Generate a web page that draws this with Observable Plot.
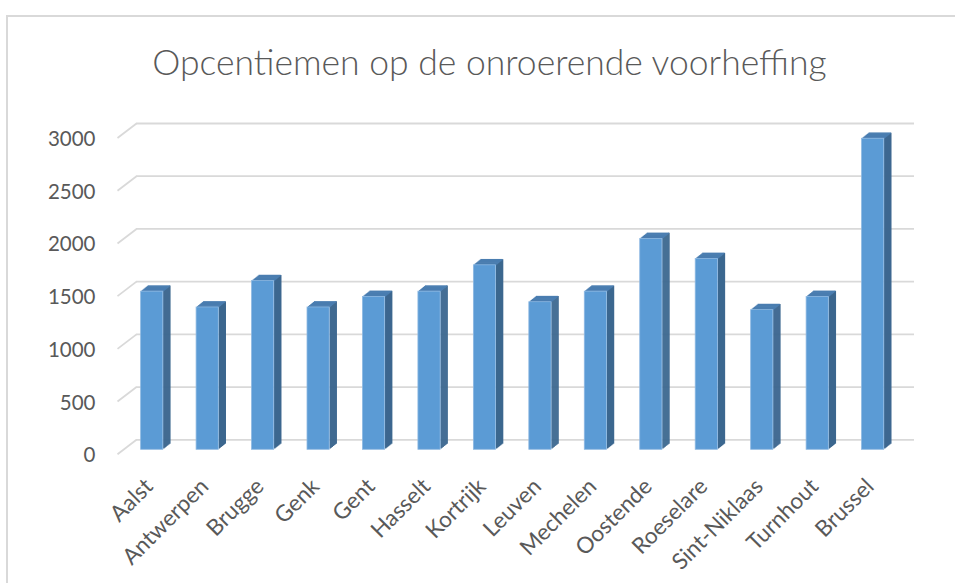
<!DOCTYPE html>
<html><head><meta charset="utf-8">
<script src="https://cdn.jsdelivr.net/npm/d3@7"></script>
<script src="https://cdn.jsdelivr.net/npm/@observablehq/plot@0.6"></script>
<style>
body{margin:0;background:#fff;}
#wrap{position:relative;width:955px;height:583px;overflow:hidden;background:#fff;}
#chart{position:absolute;left:0;top:0;}
#title{position:absolute;left:12px;width:955px;top:44px;text-align:center;font-family:Lato,sans-serif;font-weight:300;font-size:35.5px;line-height:35.5px;color:#595959;white-space:nowrap;}
#frame{position:absolute;left:6px;top:15px;width:990px;height:620px;border:2px solid #d9d9d9;}
</style></head>
<body><div id="wrap"><div id="chart"></div><div id="title">Opcentiemen op de onroerende voorheffing</div><div id="frame"></div></div>
<script>
const cities = ["Aalst","Antwerpen","Brugge","Genk","Gent","Hasselt","Kortrijk","Leuven","Mechelen","Oostende","Roeselare","Sint-Niklaas","Turnhout","Brussel"];
const values = [1500,1350,1600,1350,1450,1500,1750,1400,1500,2000,1810,1325,1450,2950];
const yTicks = [0,500,1000,1500,2000,2500,3000];

const W = 955, H = 583, ML = 124, MR = 54.6, MT = 133, MB = 133.7;
const UNIT = (W - ML - MR) / cities.length;
const K = (H - MT - MB) / 3000;
const pxX = px => (px - ML) / UNIT - 0.5;
const HALF = 0.2;
const FRONT = "#5b9bd5", SIDE = "#3c678f", TOP = "#4a7db0", GRID = "#d9d9d9", TXT = "#595959";
const FONT = "Lato, sans-serif";

const data = cities.map((c, i) => ({city: c, i, v: values[i]}));
const steps = d3.range(1, 8);

const sideMarks = steps.map(k => Plot.ruleX(data, {x: d => d.i + HALF, y1: d => 0, y2: "v", dx: k - 0.5, dy: -k * 0.8, stroke: SIDE, strokeWidth: 1.5}));
const topMarks = steps.map(k => Plot.ruleY(data, {y: "v", x1: d => d.i - HALF, x2: d => d.i + HALF, dx: k, dy: -k * 0.8, stroke: TOP, strokeWidth: 1.5}));

const chart = Plot.plot({
  width: W, height: H,
  marginLeft: ML, marginRight: MR, marginTop: MT, marginBottom: MB,
  style: {background: "transparent", overflow: "visible"},
  x: {domain: [-0.5, cities.length - 0.5], axis: null},
  y: {domain: [0, 3000], axis: null},
  marks: [
    Plot.ruleY(yTicks, {y: d => d, x1: () => pxX(136), x2: () => pxX(914), dy: -10, stroke: GRID, strokeWidth: 1.8}),
    Plot.link(yTicks, {x1: () => pxX(117), y1: d => d, x2: () => pxX(136), y2: d => d + 14.5 / K, dy: 4.5, stroke: GRID, strokeWidth: 1.8}),
    ...sideMarks,
    ...topMarks,
    Plot.rect(data, {x1: d => d.i - HALF, x2: d => d.i + HALF, y1: d => 0, y2: "v", fill: FRONT, stroke: "#8db8e2", strokeWidth: 0.8}),
    Plot.text(yTicks, {y: d => d, text: d => String(d), frameAnchor: "left", textAnchor: "end", dx: -29, dy: 6, fontSize: 20.5, fill: TXT, fontFamily: FONT}),
    Plot.text(data, {x: "i", y: d => 0, text: "city", rotate: -45, textAnchor: "end", dx: -3, dy: 33, fontSize: 22.5, fill: TXT, fontFamily: FONT})
  ]
});
document.getElementById("chart").appendChild(chart);
</script>
</body></html>
